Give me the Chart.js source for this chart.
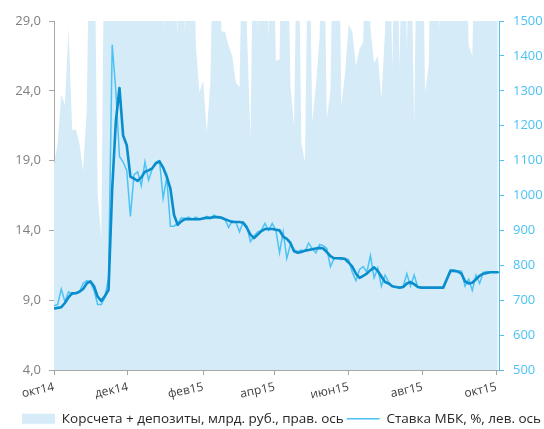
<!DOCTYPE html>
<html>
<head>
<meta charset="utf-8">
<script src="https://cdn.jsdelivr.net/npm/chart.js@4/dist/chart.umd.min.js"></script>
<style>
  html, body { margin: 0; padding: 0; background: #ffffff; }
  #c { display: block; }
</style>
</head>
<body>
<canvas id="c" width="544" height="429"></canvas>
<script>
// Observations every 3 days, counted from 1 Oct 2014
const STEP_DAYS = 3;

// Month ticks on the time axis (days from 1 Oct 2014) and their labels
const monthTickDays = [0, 61, 123, 182, 243, 304, 365];
const monthTickLabels = ['окт14', 'дек14', 'фев15', 'апр15', 'июн15', 'авг15', 'окт15'];

// Axis ticks
const rateTicks = [4, 9, 14, 19, 24, 29];
const balanceTicks = [500, 600, 700, 800, 900, 1000, 1100, 1200, 1300, 1400, 1500];

// Корсчета + депозиты, млрд. руб.
const balances = [
  1090, 1150, 1290, 1260, 1480, 1186, 1190, 1150, 1070, 1250,
  1950, 1880, 1000,  880, 1960, 2050, 2080, 1990, 2100, 2020,
  1980, 2060, 2110, 2000, 1940, 2040, 2120, 2010, 1960, 1920,
  1470, 1940, 2010, 1900, 1460, 1920, 1460, 1960, 1920, 1430,
  1295, 1330, 1181, 1324, 1940, 2050, 1470, 1470, 1430, 1400,
  1324, 1310, 1900, 1490, 1163, 1940, 1470, 1980, 2050, 1450,
  1920, 1386, 1390, 1960, 1910, 1314, 1200, 1940, 1150, 1095,
  1900, 1210, 1314, 1450, 1930, 1220, 1300, 1960, 2040, 1257,
  1350, 1490, 1470, 1371, 1420, 1440, 1920, 1480, 1380, 1400,
  1277, 1470, 1940, 1363, 1920, 1363, 1960, 1420, 1900, 1200,
  1940, 2020, 1295, 1371, 1980, 2050, 1470, 1940, 1990, 2040,
  2010, 2060, 1980, 1920, 1430, 1400, 1940, 2010, 2060, 2040,
  2010, 1980, 1960
];

// Ставка МБК, % (daily)
const rateDaily = [
  8.6, 8.7, 9.8, 8.9, 9.6, 9.4, 9.5, 9.6, 10.2, 10.4,
  10.3, 9.7, 8.7, 8.7, 9.2, 10.6, 27.3, 24.0, 19.3, 18.9,
  18.3, 15.0, 18.0, 18.2, 17.2, 18.9, 17.6, 18.4, 18.9, 19.0,
  16.3, 17.8, 14.3, 14.3, 14.5, 14.9, 14.85, 14.95, 14.8, 14.95,
  14.8, 14.9, 15.0, 14.85, 15.1, 14.9, 14.95, 14.8, 14.2, 14.7,
  14.6, 13.9, 14.6, 14.3, 13.2, 13.6, 13.9, 14.0, 14.5, 14.0,
  14.5, 14.0, 12.4, 13.9, 12.0, 13.0, 12.6, 12.5, 12.6, 12.5,
  13.1, 12.7, 12.4, 13.0, 12.9, 12.7, 11.4, 12.0, 12.0, 11.9,
  12.0, 11.9, 11.0, 10.4, 11.2, 11.4, 11.0, 12.2, 10.6, 11.3,
  10.0, 10.8, 10.3, 10.0, 9.95, 9.9, 10.0, 10.9, 10.0, 10.8,
  9.95, 9.9, 9.9, 9.9, 9.9, 9.9, 9.9, 9.9, 10.6, 11.2,
  11.15, 11.1, 11.1, 10.0, 10.5, 9.7, 10.8, 10.2, 11.0, 11.05,
  11.0, 11.0, 11.0
];

// Ставка МБК, % (smoothed)
const rateSmoothed = [
  8.4, 8.45, 8.5, 8.8, 9.2, 9.5, 9.5, 9.6, 9.8, 10.2,
  10.35, 10.0, 9.25, 8.95, 9.3, 9.75, 17.0, 21.8, 24.2, 20.8,
  20.1, 17.85, 17.7, 17.55, 17.8, 18.2, 18.3, 18.45, 18.8, 18.95,
  18.5, 17.85, 17.0, 15.1, 14.4, 14.65, 14.8, 14.8, 14.8, 14.8,
  14.8, 14.85, 14.9, 14.9, 14.95, 14.95, 14.9, 14.8, 14.7, 14.6,
  14.6, 14.6, 14.55, 14.2, 13.7, 13.45, 13.7, 13.95, 14.1, 14.1,
  14.1, 14.05, 14.0, 13.55, 13.4, 13.1, 12.5, 12.4, 12.45, 12.55,
  12.6, 12.65, 12.7, 12.75, 12.7, 12.45, 12.15, 12.0, 12.0, 12.0,
  11.95, 11.7, 11.4, 10.9, 10.6, 10.75, 10.9, 11.15, 11.35, 11.1,
  10.7, 10.3, 10.2, 10.0, 9.95, 9.9, 9.95, 10.2, 10.3, 10.15,
  9.95, 9.9, 9.9, 9.9, 9.9, 9.9, 9.9, 9.9, 10.5, 11.1,
  11.1, 11.05, 10.9, 10.35, 10.2, 10.25, 10.5, 10.75, 10.9, 10.95,
  11.0, 11.0, 11.0
];

const toPoints = arr => arr.map((v, i) => ({ x: i * STEP_DAYS, y: v }));

const FONT = 'Open Sans';
const GREY = '#a6a6a6';
const AREA = '#d5ebf7';
const LIGHT = '#4cc2f5';
const DARK = '#0a8dcc';

new Chart(document.getElementById('c'), {
  type: 'line',
  data: {
    datasets: [
      {
        label: 'Корсчета + депозиты, млрд. руб., прав. ось',
        data: toPoints(balances),
        yAxisID: 'yR',
        fill: 'start',
        backgroundColor: AREA,
        borderColor: 'rgba(0,0,0,0)',
        borderWidth: 0,
        pointRadius: 0,
        pointStyle: 'rect',
        tension: 0,
        order: 3
      },
      {
        label: 'Ставка МБК, %, лев. ось',
        data: toPoints(rateDaily),
        yAxisID: 'yL',
        fill: false,
        borderColor: LIGHT,
        backgroundColor: LIGHT,
        borderWidth: 1.5,
        pointRadius: 0,
        pointStyle: 'line',
        tension: 0,
        order: 2
      },
      {
        label: 'Ставка МБК, скользящая средняя',
        data: toPoints(rateSmoothed),
        yAxisID: 'yL',
        fill: false,
        borderColor: DARK,
        backgroundColor: DARK,
        borderWidth: 2.6,
        borderJoinStyle: 'round',
        borderCapStyle: 'round',
        pointRadius: 0,
        tension: 0,
        order: 1
      }
    ]
  },
  options: {
    responsive: false,
    animation: false,
    devicePixelRatio: 1,
    layout: { padding: { top: 21, right: 0, bottom: 0, left: 0 } },
    plugins: {
      tooltip: { enabled: false },
      legend: {
        position: 'bottom',
        align: 'end',
        maxHeight: 20,
        labels: {
          usePointStyle: true,
          pointStyleWidth: 33,
          boxHeight: 10,
          padding: 3,
          color: '#262626',
          font: { family: FONT, size: 13.5 },
          filter: item => item.datasetIndex !== 2,
          sort: (a, b) => a.datasetIndex - b.datasetIndex
        }
      }
    },
    scales: {
      x: {
        type: 'linear',
        min: 0,
        max: 367,
        afterBuildTicks: s => { s.ticks = monthTickDays.map(v => ({ value: v })); },
        afterFit: s => { s.height = 39; },
        ticks: {
          callback: (v, i) => monthTickLabels[i],
          minRotation: 12,
          maxRotation: 12,
          padding: 5,
          color: '#404040',
          font: { family: FONT, size: 12 }
        },
        grid: { drawOnChartArea: false, drawTicks: true, tickLength: 5, color: GREY },
        border: { display: true, color: GREY, width: 1 }
      },
      yL: {
        type: 'linear',
        position: 'left',
        min: 4,
        max: 29,
        afterBuildTicks: s => { s.ticks = rateTicks.map(v => ({ value: v })); },
        afterFit: s => { s.width = 54; },
        ticks: {
          callback: v => v.toFixed(1).replace('.', ','),
          padding: 8,
          color: '#7f7f7f',
          font: { family: FONT, size: 13 }
        },
        grid: { drawOnChartArea: false, drawTicks: true, tickLength: 5, color: GREY },
        border: { display: true, color: GREY, width: 1 }
      },
      yR: {
        type: 'linear',
        position: 'right',
        min: 500,
        max: 1500,
        afterBuildTicks: s => { s.ticks = balanceTicks.map(v => ({ value: v })); },
        afterFit: s => { s.width = 45; },
        ticks: {
          callback: v => String(v),
          padding: 9,
          color: LIGHT,
          font: { family: FONT, size: 13 }
        },
        grid: { drawOnChartArea: false, drawTicks: true, tickLength: 5, color: LIGHT },
        border: { display: true, color: LIGHT, width: 1 }
      }
    }
  }
});
</script>
</body>
</html>
